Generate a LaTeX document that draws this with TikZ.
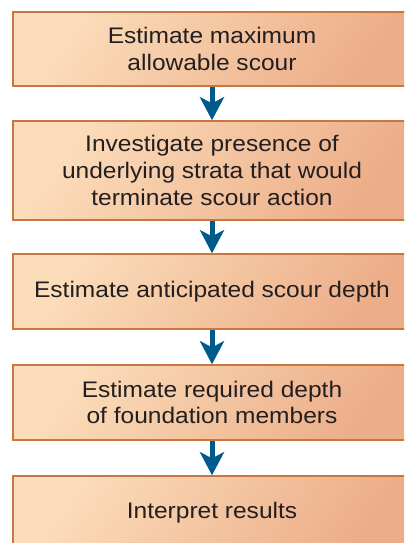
\documentclass[tikz,border=0pt]{standalone}
\usepackage{fontspec}
\setmainfont{Liberation Sans}[FakeStretch=1.09]
\usetikzlibrary{arrows.meta}
\definecolor{boxborder}{HTML}{C77840}
\definecolor{boxlight}{HTML}{FCDDBA}
\definecolor{boxdark}{HTML}{ECAE89}
\definecolor{arrowblue}{HTML}{005A8C}
\definecolor{txt}{HTML}{231F20}
\tikzset{
  stepbox/.style={draw=boxborder, line width=2.5pt, rectangle,
    minimum width=398pt, inner sep=0pt, align=center,
    top color=boxlight, bottom color=boxdark, shading angle=55,
    text=txt, font=\fontsize{22.5}{26.7}\selectfont},
  flow/.style={draw=arrowblue, line width=5pt,
    -{Stealth[length=23pt, width=24pt, inset=6pt]}, shorten >=-0.5pt}
}
\begin{document}
\begin{tikzpicture}[x=1pt, y=-1pt]
\useasboundingbox (0,0) rectangle (404,543);
\fill[white] (0,0) rectangle (404,543);
\clip (0,0) rectangle (404,543);
\node[stepbox, minimum height=74pt] (b1) at (212,49) {Estimate maximum\\allowable scour};
\node[stepbox, minimum height=99pt] (b2) at (212,170.5) {Investigate presence of\\underlying strata that would\\terminate scour action};
\node[stepbox, minimum height=75pt] (b3) at (212,291.5) {Estimate anticipated scour depth};
\node[stepbox, minimum height=75pt] (b4) at (212,402.5) {Estimate required depth\\of foundation members};
\node[stepbox, minimum height=74pt] (b5) at (212,513) {Interpret results};
\draw[flow] (b1.south) -- (b2.north);
\draw[flow] (b2.south) -- (b3.north);
\draw[flow] (b3.south) -- (b4.north);
\draw[flow] (b4.south) -- (b5.north);
\end{tikzpicture}
\end{document}
